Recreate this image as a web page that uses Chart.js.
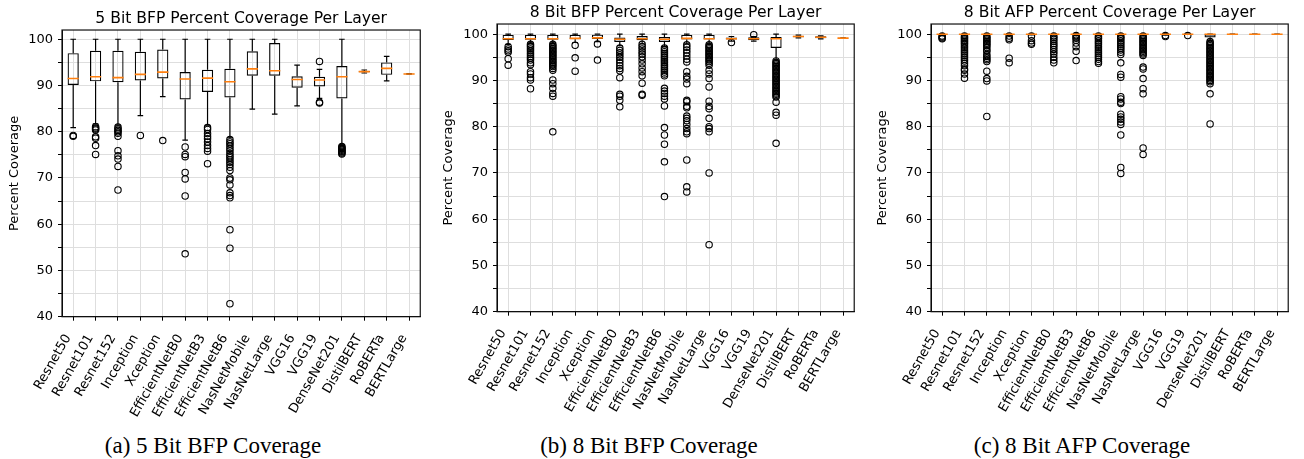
<!DOCTYPE html>
<html><head><meta charset="utf-8">
<script src="https://cdn.jsdelivr.net/npm/chart.js@4.4.0/dist/chart.umd.min.js"></script>
<style>
html,body{margin:0;padding:0;background:#fff;width:1304px;height:459px;overflow:hidden;position:relative}
canvas{position:absolute;top:0}
.cap{position:absolute;top:434px;width:320px;text-align:center;font-family:'Liberation Serif','Times New Roman',serif;font-size:23px;line-height:23px;color:#000;white-space:nowrap}
</style></head><body>
<canvas id="c0" width="434" height="430" style="left:0px"></canvas>
<canvas id="c1" width="434" height="430" style="left:434px"></canvas>
<canvas id="c2" width="434" height="430" style="left:868px"></canvas>
<div class="cap" style="left:53px">(a) 5 Bit BFP Coverage</div>
<div class="cap" style="left:489px">(b) 8 Bit BFP Coverage</div>
<div class="cap" style="left:922px">(c) 8 Bit AFP Coverage</div>
<script>
const categories = ['Resnet50','Resnet101','Resnet152','Inception','Xception','EfficientNetB0','EfficientNetB3','EfficientNetB6','NasNetMobile','NasNetLarge','VGG16','VGG19','DenseNet201','DistilBERT','RoBERTa','BERTLarge'];
const yTickValues = [40,45,50,55,60,65,70,75,80,85,90,95,100];
const yTickLabels = ['40','','50','','60','','70','','80','','90','','100'];
const yLabel = 'Percent Coverage';

// (a) 5 Bit BFP
const bfp5Title = '5 Bit BFP Percent Coverage Per Layer';
const bfp5Low    = [80.9, 81.7, 81.4, 83.5, 87.6, 78.2, 81.4, 78.7, 84.9, 83.8, 85.6, 87.2, 77.0, 92.7, 91.0, 92.45];
const bfp5Q1     = [90.1, 90.9, 90.7, 91.1, 91.5, 87.0, 88.6, 87.4, 92.1, 92.1, 89.5, 89.8, 87.2, 92.85, 92.3, 92.47];
const bfp5Median = [91.5, 91.9, 91.7, 92.4, 92.9, 91.4, 91.6, 90.8, 93.6, 93.2, 91.3, 91.2, 91.9, 93.0, 93.7, 92.5];
const bfp5Q3     = [97.0, 97.5, 97.5, 97.3, 97.8, 92.9, 93.4, 93.6, 97.4, 99.2, 92.0, 91.9, 94.2, 93.15, 95.0, 92.53];
const bfp5High   = [100, 100, 100, 100, 100, 100, 100, 100, 100, 100, 94.4, 93.5, 100, 93.35, 96.3, 92.55];
const bfp5Outliers = [
  [79.0, 79.2],
  [81.1, 80.8, 80.6, 80.4, 78.9, 78.6, 77.0, 75.1],
  [81.0, 80.6, 80.3, 80.0, 79.7, 79.0, 75.9, 74.8, 74.1, 72.5, 67.4],
  [79.2],
  [78.1],
  [76.7, 75.1, 74.6, 71.2, 69.8, 66.1, 53.6],
  [80.9, 80.5, 79.6, 79.0, 78.5, 77.8, 77.0, 76.4, 75.8, 73.1],
  [78.3, 77.8, 77.4, 76.9, 76.4, 75.9, 75.3, 74.8, 74.4, 73.9, 73.4, 72.9, 72.3, 71.6, 70.0, 69.6, 68.5, 66.8, 66.2, 65.7, 58.8, 54.8, 42.8],
  [], [], [],
  [95.2, 86.4, 86.2],
  [76.8, 76.6, 76.4, 76.2, 76.0, 75.8, 75.6, 75.4, 75.2],
  [], [], []
];

// (b) 8 Bit BFP
const bfp8Title = '8 Bit BFP Percent Coverage Per Layer';
const bfp8Low    = [97.8, 98.0, 98.0, 98.2, 98.4, 97.5, 97.9, 97.3, 97.9, 97.9, 98.5, 98.5, 94.4, 99.2, 99.0, 99.1];
const bfp8Q1     = [98.75, 98.8, 98.8, 98.9, 98.95, 98.3, 98.7, 98.3, 98.85, 98.85, 98.85, 98.7, 97.0, 99.35, 99.1, 99.12];
const bfp8Median = [99.0, 99.0, 99.0, 99.1, 99.2, 98.9, 99.0, 98.9, 99.1, 99.0, 99.0, 99.0, 99.0, 99.5, 99.35, 99.15];
const bfp8Q3     = [99.85, 99.85, 99.85, 99.85, 99.9, 99.3, 99.6, 99.4, 99.85, 99.85, 99.3, 99.35, 99.4, 99.65, 99.55, 99.18];
const bfp8High   = [100, 100, 100, 100, 100, 100, 100, 100, 100, 100, 99.5, 99.5, 100, 99.8, 99.65, 99.2];
const bfp8Outliers = [
  [97.3, 96.8, 96.4, 96.1, 94.7, 93.3],
  [97.8, 97.5, 97.2, 96.8, 96.4, 96.0, 95.6, 95.2, 94.8, 94.4, 93.8, 93.4, 91.9, 91.4, 90.6, 90.1, 88.2],
  [97.8, 97.5, 97.2, 96.9, 96.6, 96.3, 96.0, 95.7, 95.4, 95.1, 94.8, 94.5, 94.2, 93.9, 93.6, 93.3, 93.0, 92.6, 92.2, 90.1, 89.3, 88.3, 87.2, 86.6, 78.9],
  [97.6, 94.9, 92.0],
  [97.9, 94.4],
  [97.0, 96.5, 96.0, 95.5, 95.0, 94.4, 93.8, 93.2, 92.6, 92.1, 90.6, 87.0, 86.6, 85.7, 84.3],
  [97.8, 97.3, 96.8, 96.2, 95.7, 95.1, 94.4, 93.6, 92.7, 91.9, 91.0, 89.4, 87.0, 86.8],
  [97.0, 96.6, 96.2, 95.8, 95.4, 95.0, 94.6, 94.2, 93.8, 93.4, 93.0, 92.6, 92.2, 91.8, 91.4, 91.0, 88.3, 87.7, 87.2, 86.6, 86.0, 84.5, 79.8, 78.2, 76.2, 72.4, 64.9],
  [97.7, 97.2, 96.6, 96.0, 95.3, 94.6, 94.0, 91.9, 90.9, 90.3, 89.3, 85.7, 85.4, 84.4, 84.1, 82.3, 81.8, 81.3, 80.5, 79.6, 78.9, 78.5, 72.8, 67.0, 65.9],
  [97.7, 97.4, 97.1, 96.8, 96.5, 96.2, 95.9, 95.6, 95.3, 95.0, 94.7, 94.4, 94.1, 93.7, 93.3, 92.2, 91.4, 90.4, 88.6, 85.5, 84.4, 83.9, 81.8, 80.0, 79.6, 78.9, 70.0, 54.5],
  [98.2],
  [99.9],
  [94.2, 93.9, 93.6, 93.3, 93.0, 92.7, 92.4, 92.1, 91.8, 91.5, 91.2, 90.9, 90.6, 90.3, 90.0, 89.7, 89.4, 89.1, 88.8, 88.5, 88.2, 87.9, 87.6, 87.3, 87.0, 86.7, 86.4, 85.3, 83.1, 82.5, 76.4],
  [], [], []
];

// (c) 8 Bit AFP
const afp8Title = '8 Bit AFP Percent Coverage Per Layer';
const afp8Low    = [99.8, 99.8, 99.8, 99.8, 99.85, 99.8, 99.8, 99.8, 99.8, 99.8, 99.8, 100, 98.6, 100, 100, 100];
const afp8Q1     = [99.9, 99.9, 99.9, 99.9, 99.9, 99.9, 99.9, 99.9, 99.9, 99.9, 99.9, 100, 99.3, 100, 100, 100];
const afp8Median = [100, 100, 100, 100, 100, 100, 100, 100, 100, 100, 100, 100, 100, 100, 100, 100];
const afp8Q3     = [100, 100, 100, 100, 100, 100, 100, 100, 100, 100, 100, 100, 100, 100, 100, 100];
const afp8High   = [100, 100, 100, 100, 100, 100, 100, 100, 100, 100, 100, 100, 100, 100, 100, 100];
const afp8Outliers = [
  [99.6, 99.4, 99.2, 99.0],
  [99.6, 99.3, 99.0, 98.7, 98.4, 98.1, 97.8, 97.4, 97.0, 96.6, 96.2, 95.8, 95.4, 95.0, 94.6, 94.2, 93.7, 93.2, 92.5, 92.2, 91.4, 90.5],
  [99.6, 99.3, 99.0, 98.7, 98.4, 98.1, 97.8, 97.5, 97.1, 96.6, 96.3, 95.6, 95.2, 94.8, 94.5, 94.1, 92.0, 90.4, 89.9, 82.2],
  [99.6, 99.1, 98.8, 94.8, 93.8],
  [99.6, 98.6, 98.1, 97.8],
  [99.6, 99.3, 98.9, 98.5, 98.0, 97.6, 97.2, 96.7, 96.2, 95.7, 95.0, 94.4, 93.8],
  [99.7, 99.4, 99.1, 98.7, 98.1, 97.3, 96.3, 94.3],
  [99.6, 99.3, 99.0, 98.6, 98.2, 97.8, 97.4, 97.0, 96.6, 96.2, 95.8, 95.4, 95.0, 94.6, 94.1, 93.7],
  [99.6, 99.3, 99.0, 98.6, 98.2, 97.8, 97.4, 97.0, 96.6, 96.1, 95.6, 93.8, 91.3, 90.7, 86.5, 86.0, 85.3, 85.0, 82.7, 82.1, 81.6, 81.0, 80.5, 78.2, 71.2, 69.9],
  [99.6, 99.3, 99.0, 98.7, 98.4, 98.1, 97.8, 97.5, 97.2, 96.9, 96.6, 96.3, 96.0, 95.7, 95.4, 92.9, 92.5, 90.4, 88.2, 87.1, 75.4, 74.0],
  [99.7, 99.5],
  [99.7],
  [98.4, 98.1, 97.8, 97.5, 97.2, 96.9, 96.6, 96.3, 96.0, 95.7, 95.4, 95.1, 94.8, 94.5, 94.2, 93.9, 93.6, 93.3, 93.0, 92.7, 92.4, 92.1, 91.8, 91.5, 91.2, 90.9, 90.6, 90.3, 90.0, 89.7, 89.3, 87.1, 80.6],
  [], [], []
];

Chart.defaults.font.family = "'DejaVu Sans', sans-serif";
Chart.defaults.color = '#000';

const GRID = '#dedede';

const boxPlugin = {
  id: 'boxParts',
  afterDatasetsDraw(chart) {
    const {ctx, chartArea: a, scales: {y}} = chart;
    const ds = chart.data.datasets[0];
    const meta = chart.getDatasetMeta(0);
    ctx.save();
    ctx.beginPath(); ctx.rect(a.left, a.top, a.right - a.left, a.bottom - a.top); ctx.clip();
    ctx.strokeStyle = '#000'; ctx.lineWidth = 1.2;
    meta.data.forEach((bar, i) => {
      const cx = bar.x, cw = bar.width / 4;
      const yLo = y.getPixelForValue(ds.boxLow[i]), yHi = y.getPixelForValue(ds.boxHigh[i]);
      const yQ1 = y.getPixelForValue(ds.data[i][0]), yQ3 = y.getPixelForValue(ds.data[i][1]);
      ctx.beginPath();
      ctx.moveTo(cx, yQ1); ctx.lineTo(cx, yLo);
      ctx.moveTo(cx, yQ3); ctx.lineTo(cx, yHi);
      ctx.moveTo(cx - cw, yLo); ctx.lineTo(cx + cw, yLo);
      ctx.moveTo(cx - cw, yHi); ctx.lineTo(cx + cw, yHi);
      ctx.stroke();
    });
    ctx.strokeStyle = '#ff7f0e'; ctx.lineWidth = 1.6;
    meta.data.forEach((bar, i) => {
      const ym = y.getPixelForValue(ds.boxMedian[i]);
      ctx.beginPath(); ctx.moveTo(bar.x - bar.width / 2, ym); ctx.lineTo(bar.x + bar.width / 2, ym); ctx.stroke();
    });
    ctx.restore();
    ctx.save();
    ctx.strokeStyle = '#111'; ctx.lineWidth = 1.2;
    ctx.strokeRect(a.left, a.top, a.right - a.left, a.bottom - a.top);
    ctx.restore();
  }
};

function makeChart(id, title, low, q1, med, q3, high, outliers, geo) {
  const pts = [];
  outliers.forEach((arr, i) => arr.forEach(v => pts.push({x: categories[i], y: v})));
  return new Chart(document.getElementById(id), {
    type: 'bar',
    data: {
      labels: categories,
      datasets: [
        {
          type: 'bar',
          data: q1.map((v, i) => [v, q3[i]]),
          boxLow: low, boxHigh: high, boxMedian: med,
          backgroundColor: 'rgba(255,255,255,0)',
          borderColor: '#000', borderWidth: 1.2, borderSkipped: false,
          categoryPercentage: 1, barPercentage: 0.5
        },
        {
          type: 'scatter',
          data: pts,
          pointRadius: 3.2, pointBorderWidth: 1.1, pointBorderColor: '#000',
          pointBackgroundColor: 'rgba(0,0,0,0)', showLine: false
        }
      ]
    },
    options: {
      responsive: false, animation: false,
      layout: {padding: {left: 0, right: geo.right, top: 0, bottom: 0}},
      plugins: {
        legend: {display: false}, tooltip: {enabled: false},
        title: {display: true, text: title, fullSize: false, color: '#000',
                font: {size: 15.6, weight: 'normal'}, padding: {top: geo.titleTop, bottom: geo.titleBottom}}
      },
      scales: {
        x: {
          offset: true,
          grid: {offset: false, color: GRID, tickColor: '#000', tickLength: 4},
          border: {color: '#000', width: 1},
          ticks: {autoSkip: false, minRotation: 60, maxRotation: 60, font: {size: 13}, color: '#000', padding: 11, labelOffset: -5},
          afterFit: s => { s.height = geo.xHeight; }
        },
        y: {
          min: 40, max: geo.yMax,
          afterBuildTicks: s => { s.ticks = yTickValues.map(v => ({value: v})); },
          ticks: {callback: (v) => yTickLabels[yTickValues.indexOf(v)], font: {size: 13}, color: '#000', padding: 5},
          grid: {color: GRID, tickColor: '#000', tickLength: 4},
          border: {color: '#000', width: 1},
          title: {display: true, text: yLabel, font: {size: 13}, color: '#000', padding: {top: 7, bottom: 0}},
          afterFit: s => { s.width = geo.yWidth; }
        }
      }
    },
    plugins: [boxPlugin]
  });
}

makeChart('c0', bfp5Title, bfp5Low, bfp5Q1, bfp5Median, bfp5Q3, bfp5High, bfp5Outliers,
  {right: 3, yWidth: 62, titleTop: 9.5, titleBottom: 1.8, xHeight: 113.3, yMax: 102});
makeChart('c1', bfp8Title, bfp8Low, bfp8Q1, bfp8Median, bfp8Q3, bfp8High, bfp8Outliers,
  {right: 3.5, yWidth: 63, titleTop: 3.5, titleBottom: 1.8, xHeight: 118.3, yMax: 102.2});
makeChart('c2', afp8Title, afp8Low, afp8Q1, afp8Median, afp8Q3, afp8High, afp8Outliers,
  {right: 3.2, yWidth: 63, titleTop: 3.5, titleBottom: 1.8, xHeight: 118.3, yMax: 102.2});
</script>
</body></html>
